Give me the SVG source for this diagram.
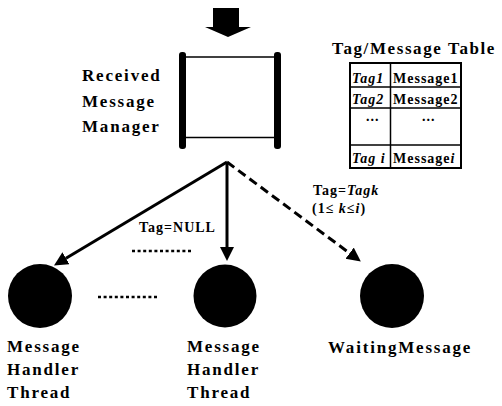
<svg xmlns="http://www.w3.org/2000/svg" width="502" height="406" viewBox="0 0 502 406">
<style>
.t{font-family:"Liberation Serif","Times New Roman",serif;font-weight:bold;fill:#000}
.lbl{font-size:17px;letter-spacing:1.8px}
.tb{font-size:14px;letter-spacing:1px}
.it{font-style:italic}
.ln{stroke:#000;stroke-width:3;fill:none}
.dash{stroke-dasharray:9 5}
.dot{stroke:#000;stroke-width:2.5;stroke-dasharray:3 2.6;fill:none}
.bar{fill:#000}
.cell{stroke:#000;stroke-width:1.5;fill:none}
</style>
<defs>
<marker id="ah" markerUnits="userSpaceOnUse" markerWidth="16" markerHeight="16" refX="0" refY="7" orient="auto">
<path d="M0,0 L14,7 L0,14 Z" fill="#000"/>
</marker>
</defs>
<rect width="502" height="406" fill="#fff"/>

<g id="connectors">
<path d="M213,8 H239 V27 H251 L228,37 L205,27 H213 Z" fill="#000"/>
<line class="ln" x1="227" y1="162" x2="66" y2="258.3" marker-end="url(#ah)"/>
<line class="ln" x1="227" y1="162" x2="227" y2="247" marker-end="url(#ah)"/>
<line class="ln dash" x1="227" y1="162" x2="349.6" y2="253.2" marker-end="url(#ah)"/>
<text class="t" x="139" y="232" font-size="14" letter-spacing="1">Tag=NULL</text>
<text class="t" x="313" y="195" font-size="14" letter-spacing="1">Tag=<tspan class="it">Tagk</tspan></text>
<text class="t" x="312" y="213" font-size="14" letter-spacing="1">(1≤  <tspan class="it">k</tspan>≤<tspan class="it">i</tspan>)</text>
<line class="dot" x1="132" y1="251" x2="193" y2="251"/>
<line class="dot" x1="98" y1="297" x2="159" y2="297"/>
</g>

<g id="manager">
<rect class="bar" x="179" y="52" width="7" height="97" rx="3"/>
<rect class="bar" x="274" y="52" width="7" height="97" rx="3"/>
<line x1="186" y1="57" x2="274" y2="57" stroke="#000" stroke-width="1.5"/>
<line x1="186" y1="137.5" x2="274" y2="137.5" stroke="#000" stroke-width="1.5"/>
<text class="t lbl" x="82" y="81">Received</text>
<text class="t lbl" x="82" y="107">Message</text>
<text class="t lbl" x="82" y="132">Manager</text>
</g>

<g id="table">
<text class="t" x="332" y="54" font-size="17" letter-spacing="1.6">Tag/Message Table</text>
<rect x="350" y="63" width="111" height="105" fill="none" stroke="#000" stroke-width="2"/>
<line class="cell" x1="390.5" y1="63" x2="390.5" y2="168"/>
<line class="cell" x1="350" y1="87" x2="461" y2="87"/>
<line class="cell" x1="350" y1="108" x2="461" y2="108"/>
<line class="cell" x1="350" y1="145" x2="461" y2="145"/>
<text class="t tb it" x="352" y="83">Tag1</text>
<text class="t tb" x="393" y="83">Message1</text>
<text class="t tb it" x="352" y="104">Tag2</text>
<text class="t tb" x="393" y="104">Message2</text>
<text class="t tb" x="366" y="121">...</text>
<text class="t tb" x="422" y="121">...</text>
<text class="t tb it" x="352" y="163">Tag i</text>
<text class="t tb" x="393" y="163">Message<tspan class="it">i</tspan></text>
</g>

<g id="handler1">
<circle cx="40" cy="296" r="32" fill="#000"/>
<text class="t lbl" x="7" y="352">Message</text>
<text class="t lbl" x="7" y="375">Handler</text>
<text class="t lbl" x="7" y="398">Thread</text>
</g>

<g id="handler2">
<circle cx="225" cy="296" r="31.5" fill="#000"/>
<text class="t lbl" x="187" y="352">Message</text>
<text class="t lbl" x="187" y="375">Handler</text>
<text class="t lbl" x="187" y="398">Thread</text>
</g>

<g id="waiting">
<circle cx="392" cy="296" r="32" fill="#000"/>
<text class="t lbl" x="328" y="353">WaitingMessage</text>
</g>
</svg>
